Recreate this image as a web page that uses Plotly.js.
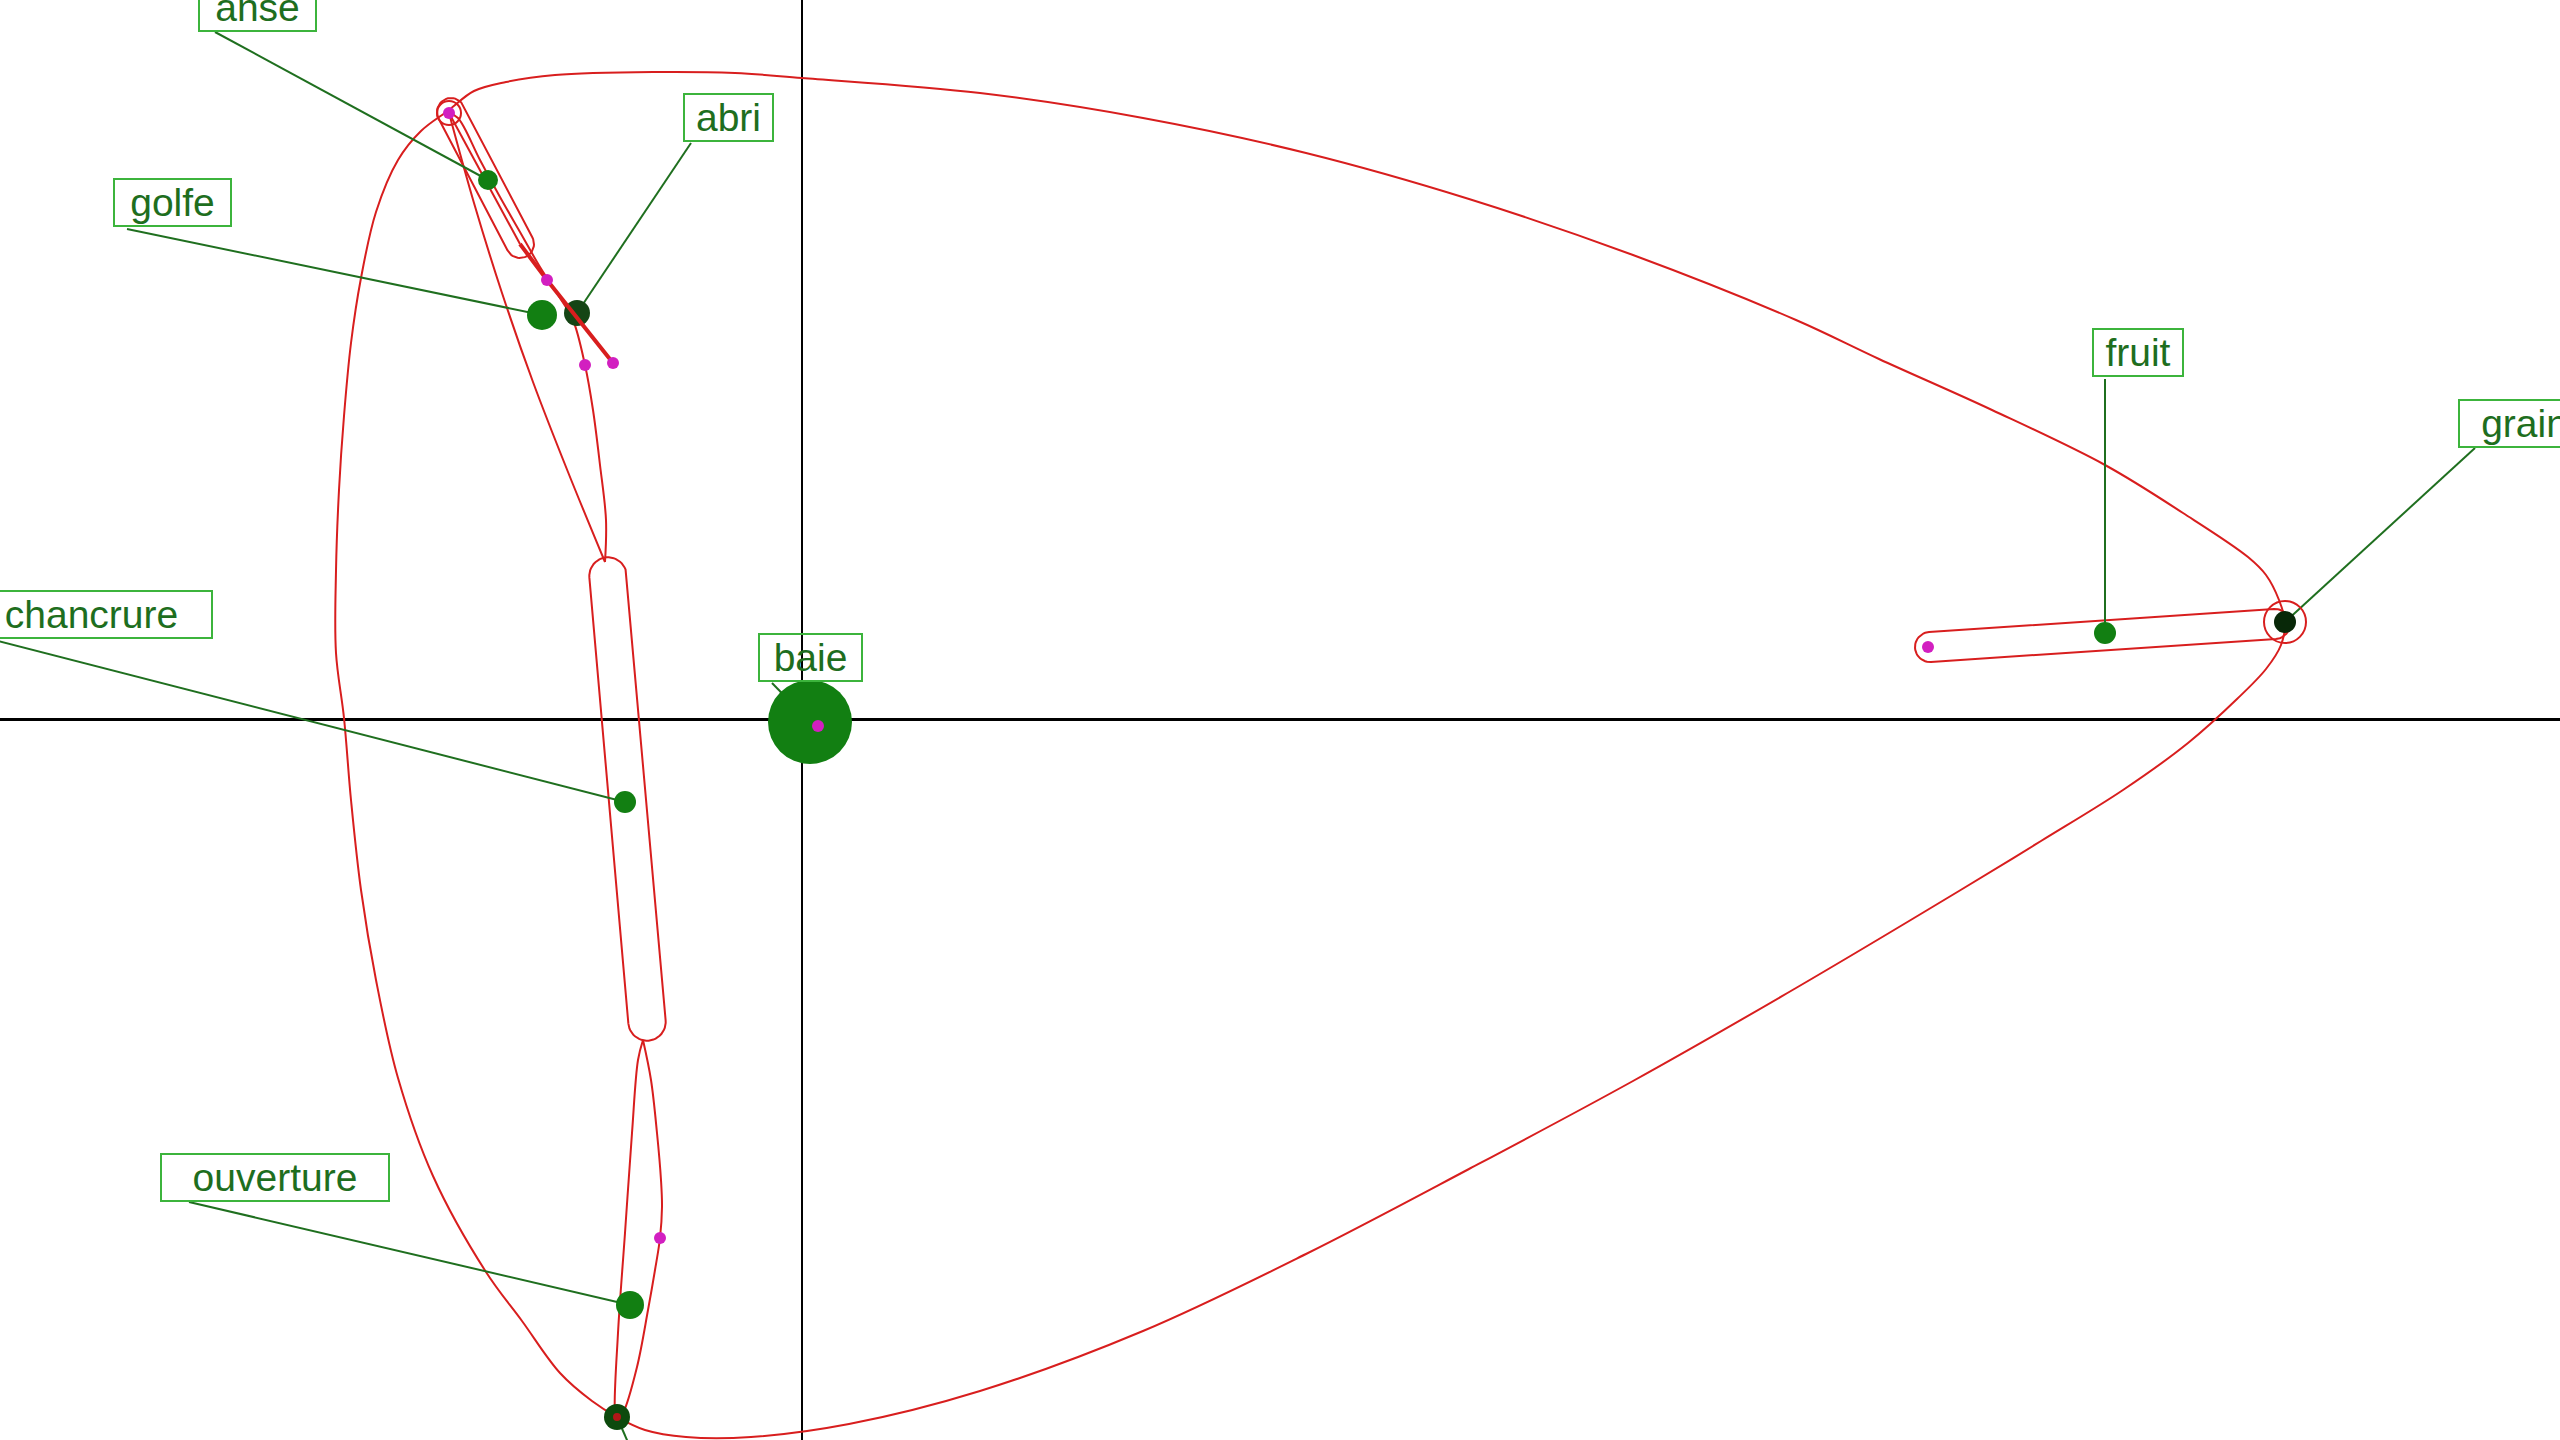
<!DOCTYPE html>
<html><head><meta charset="utf-8">
<script src="https://cdn.plot.ly/plotly-3.0.1.min.js"></script>
<style>html,body{margin:0;padding:0;background:#fff;overflow:hidden}#chart{width:2560px;height:1440px;}</style>
</head><body><div id="chart"></div>
<script>
// ---- Data (axis units; origin at the axes crossing) ----
const words     = ["anse","golfe","abri","chancrure","baie","ouverture","fruit","grain"];
const wordX     = [-3.14,-2.60,-2.25,-1.77,0.08,-1.72,13.03,14.83];
const wordY     = [5.39,4.04,4.06,-0.83,-0.03,-5.86,0.86,0.97];
const wordMass  = [10,15,13,11,42,14,11,11];

// unlabelled point at the bottom (its label lies outside the frame)
const extraX    = [-1.85];
const extraY    = [-6.98];
const extraMass = [13];

// small secondary points
const subX = [-3.53,-2.55,-2.17,-1.89,-1.42,11.26,0.16];
const subY = [6.06,4.39,3.54,3.56,-5.19,0.72,-0.07];

// label boxes (centres) and start of their leader lines
const labelX = [-5.445,-6.295,-0.735,-7.11,0.085,-5.27,13.36,17.225];
const labelY = [7.12,5.17,6.015,1.05,0.615,-4.58,3.665,2.955];
const leadX  = [-5.87,-6.75,-1.11,-8.12,-0.30,-6.13,13.03,16.73];
const leadY  = [6.87,4.90,5.76,0.80,0.36,-4.83,3.40,2.71];
const extraLeadX = [-1.62];
const extraLeadY = [-7.51];

// outer envelope
const hullX = [0.00,1.78,3.41,5.04,6.67,8.31,9.94,10.77,11.90,13.03,13.81,14.46,14.64,14.77,14.83,14.79,14.64,14.35,13.86,13.21,12.39,11.57,9.94,8.31,6.67,5.04,3.41,1.78,0.47,-0.51,-1.16,-1.57,-1.85,-2.10,-2.42,-2.80,-3.16,-3.69,-4.04,-4.26,-4.41,-4.51,-4.58,-4.66,-4.66,-4.63,-4.58,-4.51,-4.41,-4.26,-4.04,-3.81,-3.53,-3.28,-2.96,-2.47,-1.49,-0.67,0.00];
const hullY = [6.41,6.26,6.01,5.66,5.20,4.64,3.99,3.60,3.09,2.54,2.06,1.62,1.44,1.19,0.97,0.74,0.50,0.20,-0.24,-0.71,-1.22,-1.72,-2.69,-3.62,-4.50,-5.35,-6.12,-6.72,-7.05,-7.18,-7.18,-7.11,-6.98,-6.82,-6.54,-6.02,-5.53,-4.57,-3.59,-2.61,-1.71,-0.81,0.01,0.66,1.48,2.29,3.03,3.76,4.41,5.07,5.59,5.88,6.09,6.28,6.37,6.44,6.47,6.46,6.41];

// upper narrow envelope: left and right edges (top to bottom)
const lens1LX = [-3.53,-3.28,-3.00,-2.69,-2.34,-1.97];
const lens1LY = [6.06,5.16,4.26,3.37,2.47,1.57];
const lens1RX = [-3.53,-3.44,-3.22,-3.02,-2.82,-2.62,-2.42,-2.29,-2.17,-2.09,-2.02,-1.96,-1.97];
const lens1RY = [6.06,6.01,5.59,5.22,4.87,4.52,4.21,3.99,3.54,3.09,2.54,1.99,1.57];

// lower narrow envelope: left and right edges (top to bottom)
const lens2LX = [-1.59,-1.64,-1.70,-1.77,-1.84,-1.87,-1.85];
const lens2LY = [-3.21,-3.41,-4.14,-5.14,-6.14,-6.94,-7.01];
const lens2RX = [-1.59,-1.51,-1.45,-1.41,-1.40,-1.42,-1.47,-1.54,-1.65,-1.79,-1.85];
const lens2RY = [-3.21,-3.61,-4.14,-4.61,-4.88,-5.19,-5.51,-5.91,-6.48,-6.94,-7.01];

// link segments near "abri"
const linkX = [-3.53,-2.82];
const linkY = [6.06,4.75];
const boldX = [-2.82,-2.55,-1.89];
const boldY = [4.75,4.39,3.56];

// elongated envelopes (segment ends + half width)
const capAX = [-3.51,-1.94,11.28];
const capAY = [6.07,1.43,0.72];
const capBX = [-2.82,-1.55,14.73];
const capBY = [4.75,-3.03,0.95];
const capR  = [0.14,0.187,0.15];

// small rings
const ringX = [-3.53,14.83];
const ringY = [6.06,0.97];
const ringR = [0.12,0.21];

// ---- styles ----
const RED = '#d81e1e', GREEN = '#127f12', LEAD = '#1f6f1f', TXT = '#1e6e1e', BOX = '#3cb43c', MAG = '#d21fc0';
const dotColors = [GREEN, GREEN, '#154515', GREEN, GREEN, GREEN, GREEN, '#082808'];
const boxWidths = [119,119,91,243,105,230,92,133];

function capsule(ax, ay, bx, by, r) {
  const th = Math.atan2(by - ay, bx - ax);
  const xs = [], ys = [], n = 24;
  for (let i = 0; i <= n; i++) { const a = th - Math.PI/2 + Math.PI*i/n; xs.push(bx + r*Math.cos(a)); ys.push(by + r*Math.sin(a)); }
  for (let i = 0; i <= n; i++) { const a = th + Math.PI/2 + Math.PI*i/n; xs.push(ax + r*Math.cos(a)); ys.push(ay + r*Math.sin(a)); }
  xs.push(xs[0]); ys.push(ys[0]);
  return {xs, ys};
}

const traces = [];
const redLine = (x, y, shape, w) => ({type:'scatter', mode:'lines', x, y, hoverinfo:'skip',
  line:{color:RED, width:w||2, shape:shape||'linear', smoothing:1}});

traces.push(redLine(hullX, hullY, 'spline', 2));
traces.push(redLine(lens1LX, lens1LY, 'spline', 2));
traces.push(redLine(lens1RX, lens1RY, 'spline', 2));
traces.push(redLine(lens2LX, lens2LY, 'spline', 2));
traces.push(redLine(lens2RX, lens2RY, 'spline', 2));
for (let i = 0; i < capAX.length; i++) {
  const c = capsule(capAX[i], capAY[i], capBX[i], capBY[i], capR[i]);
  traces.push(redLine(c.xs, c.ys, 'linear', 2));
}
traces.push(redLine(linkX, linkY, 'linear', 2));

// leader lines
const lx = [], ly = [];
for (let i = 0; i < words.length; i++) { lx.push(leadX[i], wordX[i], null); ly.push(leadY[i], wordY[i], null); }
for (let i = 0; i < extraX.length; i++) { lx.push(extraX[i], extraLeadX[i], null); ly.push(extraY[i], extraLeadY[i], null); }
traces.push({type:'scatter', mode:'lines', x:lx, y:ly, hoverinfo:'skip', line:{color:LEAD, width:2}});

// main points
traces.push({type:'scatter', mode:'markers', x:wordX, y:wordY, text:words, hoverinfo:'text',
  marker:{size:wordMass.map(m => m*2), color:dotColors, opacity:1, line:{width:0}}});
traces.push({type:'scatter', mode:'markers', x:extraX, y:extraY, hoverinfo:'skip',
  marker:{size:extraMass.map(m => m*2), color:'#0d4a0d', opacity:1, line:{width:0}}});
traces.push({type:'scatter', mode:'markers', x:extraX, y:extraY, hoverinfo:'skip',
  marker:{size:8, color:'#b01818', opacity:1, line:{width:0}}});

traces.push(redLine(boldX, boldY, 'linear', 4));

// secondary points
traces.push({type:'scatter', mode:'markers', x:subX, y:subY, hoverinfo:'skip',
  marker:{size:12, color:MAG, opacity:1, line:{width:0}}});

const shapes = ringX.map((cx, i) => ({type:'circle', xref:'x', yref:'y',
  x0:cx - ringR[i], x1:cx + ringR[i], y0:ringY[i] - ringR[i], y1:ringY[i] + ringR[i],
  line:{color:RED, width:2}, fillcolor:'rgba(0,0,0,0)'}));

const annotations = words.map((w, i) => ({
  x:labelX[i], y:labelY[i], xref:'x', yref:'y', text:w, showarrow:false,
  xanchor:'center', yanchor:'middle', width:boxWidths[i] - 6,
  bordercolor:BOX, borderwidth:2, borderpad:1, bgcolor:'rgba(0,0,0,0)',
  font:{family:'Liberation Sans, Arial, sans-serif', size:39, color:TXT}
}));

const layout = {
  width:2560, height:1440, margin:{l:0, r:0, t:0, b:0, pad:0},
  paper_bgcolor:'#ffffff', plot_bgcolor:'#ffffff', showlegend:false,
  xaxis:{range:[-8.02,17.58], showgrid:false, zeroline:true, zerolinecolor:'#000000', zerolinewidth:2.5,
    showticklabels:false, ticks:'', showline:false, fixedrange:true},
  yaxis:{range:[-7.21,7.19], showgrid:false, zeroline:true, zerolinecolor:'#000000', zerolinewidth:3,
    showticklabels:false, ticks:'', showline:false, fixedrange:true},
  shapes, annotations
};

Plotly.newPlot('chart', traces, layout, {staticPlot:true, displayModeBar:false});
</script>
</body></html>
